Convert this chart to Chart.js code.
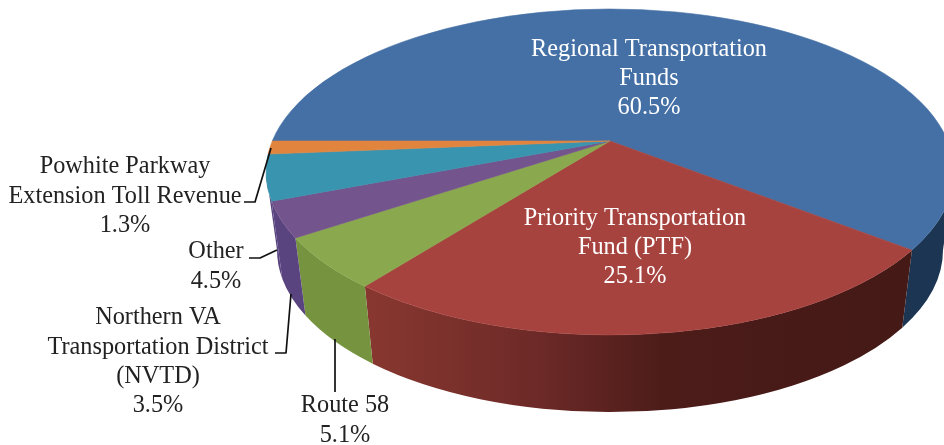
<!DOCTYPE html>
<html>
<head>
<meta charset="utf-8">
<style>html,body{margin:0;padding:0;background:#fff;overflow:hidden}canvas{display:block}</style>
<script src="https://cdn.jsdelivr.net/npm/chart.js@4"></script>
</head>
<body>
<canvas id="c" width="944" height="445"></canvas>
<script>
const categories = ["Regional Transportation\nFunds", "Priority Transportation\nFund (PTF)", "Route 58", "Northern VA\nTransportation District\n(NVTD)", "Other", "Powhite Parkway\nExtension Toll Revenue"];
const shares = [60.5, 25.1, 5.1, 3.5, 4.5, 1.3];
const topColors = ["#4470a5", "#a7433f", "#8aa84e", "#74548c", "#3994af", "#e0843e"];
const wallColors = ["#1b3552", null, "#76943f", "#5a4480", "#5a4480", "#5a4480"];
const redWallStops = [[0, "#87372f"], [0.3, "#6e2a28"], [0.55, "#4c1c19"], [1, "#441916"]];

const labelLayout = [
  {x: 649, y: 49.5,  color: "#fff"},
  {x: 635, y: 218.5, color: "#fff"},
  {x: 345, y: 406, color: "#222"},
  {x: 158, y: 318, color: "#222"},
  {x: 216, y: 252, color: "#222"},
  {x: 125, y: 167, color: "#222"}
];
const leaders = [
  [[244,202],[255,202],[271,148]],
  [[249,258],[260,258],[277,250]],
  [[275,353],[286,353],[291,294]],
  [[335,339],[335,392]]
];
const hub = {x: 610, y: 141, flat: 0.466};
const topE = {x: 610, y: 172, rx: 344, ry: 163};
const botE = {x: 610, y: 250, rx: 333, ry: 162};

function rimParam(theta) {
  const dx = Math.cos(theta), dy = hub.flat * Math.sin(theta);
  const ox = (hub.x - topE.x) / topE.rx, oy = (hub.y - topE.y) / topE.ry;
  const ax = dx / topE.rx, ay = dy / topE.ry;
  const a = ax*ax + ay*ay, b = 2*(ox*ax + oy*ay), c = ox*ox + oy*oy - 1;
  const s = (-b + Math.sqrt(b*b - 4*a*c)) / (2*a);
  return Math.atan2(oy + ay*s, ox + ax*s);
}

const pie3d = {
  id: "pie3d",
  beforeDatasetsDraw(chart) {
    const ctx = chart.ctx;
    const arcs = chart.getDatasetMeta(0).data;
    const ranges = arcs.map(a => {
      let t0 = rimParam(a.startAngle), t1 = rimParam(a.endAngle);
      if (a.startAngle <= -Math.PI + 1e-6) t0 = -Math.PI + (rimParam(-Math.PI + 1e-6) + Math.PI) % (2*Math.PI);
      while (t1 <= t0) t1 += 2*Math.PI;
      return [t0, t1];
    });
    // side walls
    arcs.forEach((a, i) => {
      let [t0, t1] = ranges[i];
      if (t1 > Math.PI && t0 > 0) t1 = Math.PI;
      const from = Math.max(t0, 0), to = Math.min(t1, Math.PI);
      if (to <= from) return;
      ctx.beginPath();
      ctx.ellipse(topE.x, topE.y, topE.rx, topE.ry, 0, from, to);
      ctx.ellipse(botE.x, botE.y, botE.rx, botE.ry, 0, to, from, true);
      ctx.closePath();
      if (wallColors[i]) ctx.fillStyle = wallColors[i];
      else {
        const g = ctx.createLinearGradient(372, 0, 905, 0);
        redWallStops.forEach(s => g.addColorStop(s[0], s[1]));
        ctx.fillStyle = g;
      }
      ctx.fill();
    });
    // top faces
    arcs.forEach((a, i) => {
      const [t0, t1] = ranges[i];
      ctx.beginPath();
      ctx.moveTo(hub.x, hub.y);
      ctx.ellipse(topE.x, topE.y, topE.rx, topE.ry, 0, t0, t1);
      ctx.closePath();
      ctx.fillStyle = topColors[i];
      ctx.fill();
      ctx.strokeStyle = topColors[i];
      ctx.lineWidth = 0.6;
      ctx.stroke();
    });
    // leaders
    ctx.strokeStyle = "#111";
    ctx.lineWidth = 1.7;
    ctx.lineJoin = "round";
    leaders.forEach(l => {
      ctx.beginPath();
      l.forEach((p, j) => j ? ctx.lineTo(p[0], p[1]) : ctx.moveTo(p[0], p[1]));
      ctx.stroke();
    });
    // labels
    ctx.font = '24.3px "Liberation Serif"';
    ctx.textAlign = "center";
    ctx.textBaseline = "middle";
    categories.forEach((name, i) => {
      const lines = name.split("\n").concat(shares[i].toFixed(1) + "%");
      ctx.fillStyle = labelLayout[i].color;
      lines.forEach((ln, j) => ctx.fillText(ln, labelLayout[i].x, labelLayout[i].y + j * 29.3));
    });
    return false;
  }
};

new Chart(document.getElementById("c"), {
  type: "pie",
  data: {labels: categories, datasets: [{data: shares, backgroundColor: topColors, borderWidth: 0}]},
  options: {
    responsive: false,
    animation: false,
    rotation: -90,
    plugins: {legend: {display: false}, tooltip: {enabled: false}}
  },
  plugins: [pie3d]
});
</script>
</body>
</html>
